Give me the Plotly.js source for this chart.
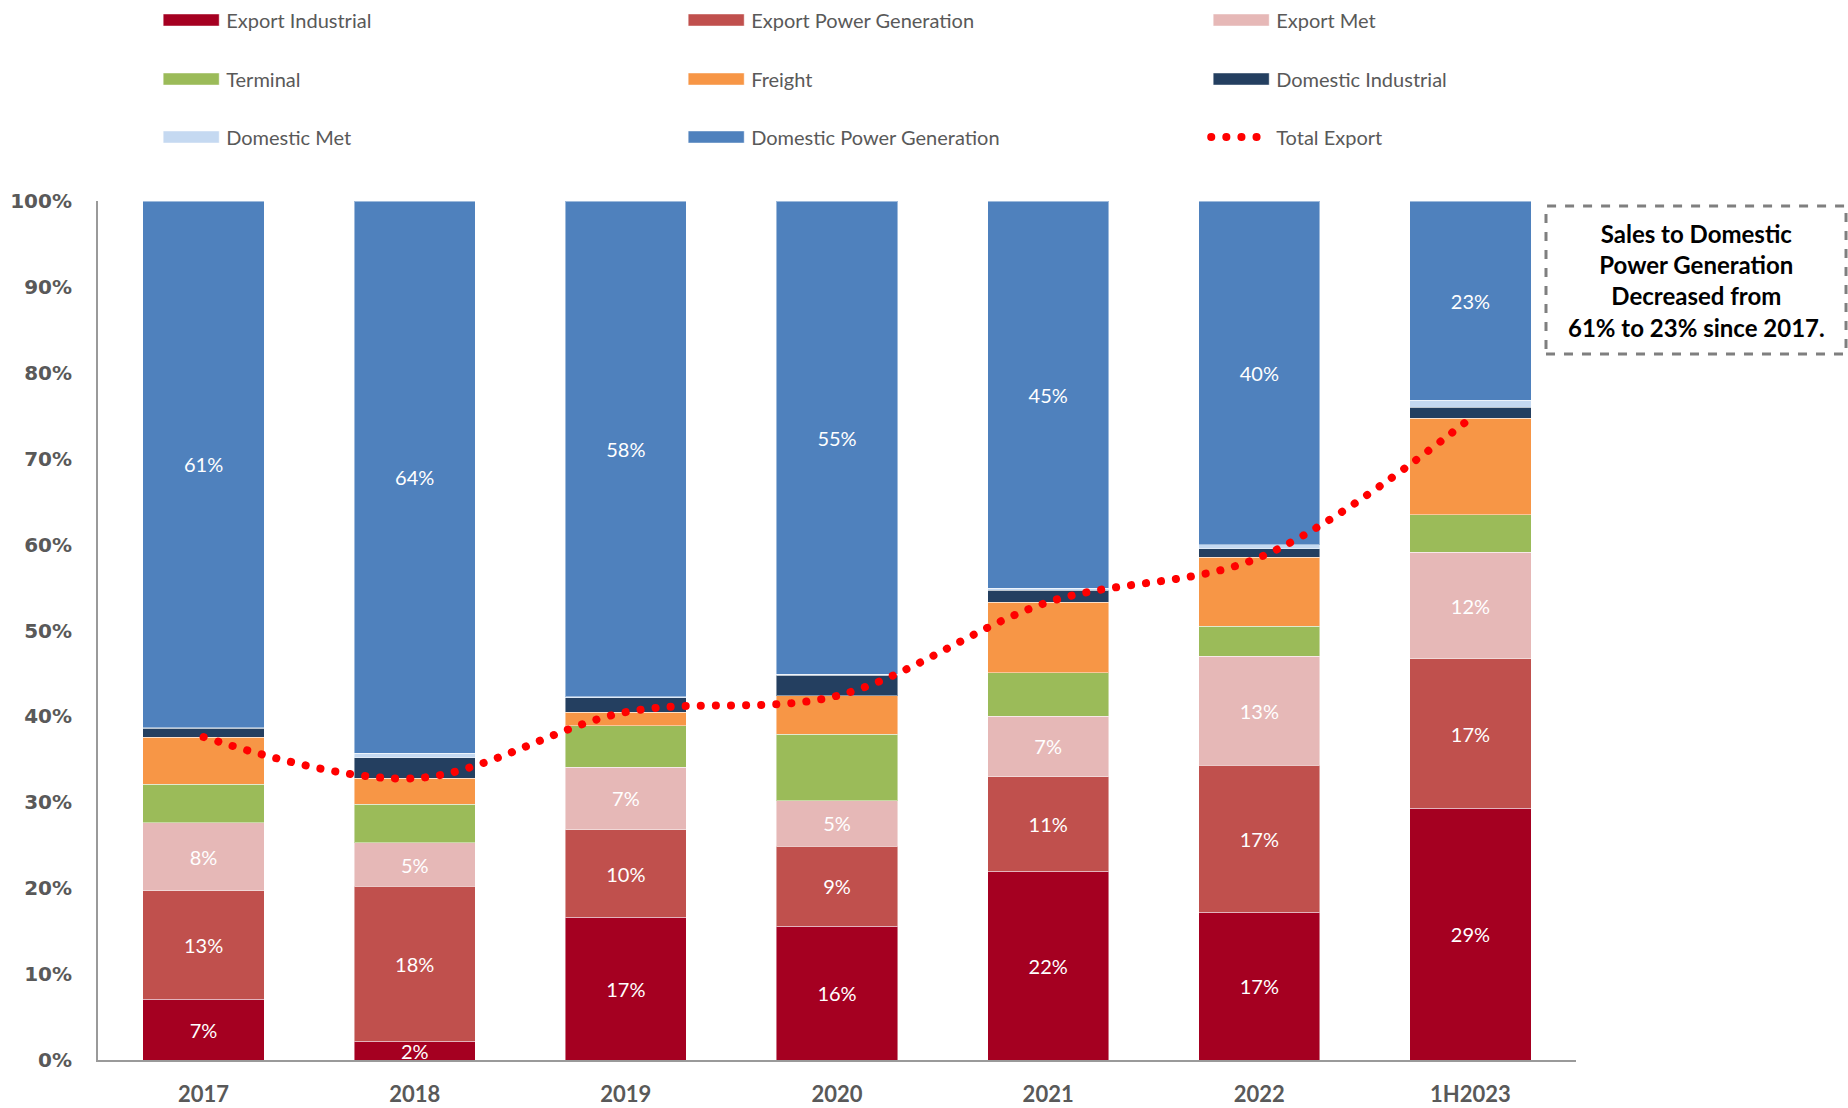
<!DOCTYPE html>
<html>
<head>
<meta charset="utf-8">
<script src="https://cdn.plot.ly/plotly-3.0.1.min.js"></script>
<style>
  body { margin: 0; background: #fff; }
  #plot { width: 1848px; height: 1108px; }
  /* round dots for the Total Export line */
  .scatterlayer .js-line, .legendlines path { stroke-linecap: round; }
</style>
</head>
<body>
<div id="plot"></div>
<script>
var years = ['2017', '2018', '2019', '2020', '2021', '2022', '1H2023'];

// shares of sales, % of total
var exportIndustrial   = [7.1, 2.2, 16.6, 15.6, 22.0, 17.2, 29.3];
var exportPowerGen     = [12.6, 18.0, 10.2, 9.3, 11.0, 17.1, 17.4];
var exportMet          = [7.9, 5.1, 7.3, 5.3, 7.0, 12.7, 12.4];
var terminal           = [4.5, 4.5, 4.8, 7.7, 5.1, 3.5, 4.4];
var freight            = [5.5, 3.0, 1.6, 4.5, 8.2, 8.0, 11.2];
var domesticIndustrial = [1.0, 2.4, 1.7, 2.4, 1.4, 1.0, 1.3];
var domesticMet        = [0.1, 0.5, 0.1, 0.1, 0.2, 0.5, 0.8];
var domesticPowerGen   = [61.3, 64.3, 57.7, 55.1, 45.1, 40.0, 23.2];
var totalExport        = [37.6, 32.8, 40.5, 42.4, 53.3, 58.5, 74.7];

var barFont = {family: 'Lato, sans-serif', size: 20, color: '#ffffff'};

function barTrace(name, values, color, legendId, labelled) {
  var t = {
    type: 'bar',
    name: name,
    x: years,
    y: values,
    legend: legendId,
    marker: {color: color, line: {color: 'rgba(255,255,255,0.45)', width: 1}},
    hoverinfo: 'name+y'
  };
  if (labelled) {
    t.texttemplate = '%{y:.0f}%';
    t.textposition = 'inside';
    t.insidetextanchor = 'middle';
    t.textangle = 0;
    t.constraintext = 'none';
    t.insidetextfont = barFont;
  } else {
    t.textposition = 'none';
  }
  return t;
}

var traces = [
  barTrace('Export Industrial', exportIndustrial, '#A50021', 'legend', true),
  barTrace('Export Power Generation', exportPowerGen, '#C0504D', 'legend', true),
  barTrace('Export Met', exportMet, '#E6B8B7', 'legend', true),
  barTrace('Terminal', terminal, '#9BBB59', 'legend2', false),
  barTrace('Freight', freight, '#F79646', 'legend2', false),
  barTrace('Domestic Industrial', domesticIndustrial, '#243F60', 'legend2', false),
  barTrace('Domestic Met', domesticMet, '#C5D9F1', 'legend3', false),
  barTrace('Domestic Power Generation', domesticPowerGen, '#4F81BD', 'legend3', true),
  {
    type: 'scatter',
    mode: 'lines',
    name: 'Total Export',
    x: years,
    y: totalExport,
    legend: 'legend3',
    line: {color: '#FF0000', width: 8, dash: '0.1px,15px', shape: 'spline', smoothing: 1},
    hoverinfo: 'name+y'
  }
];

// anchored on the right so that plotly lets the three entries share one row
function legendRow(y) {
  return {
    orientation: 'h',
    xref: 'paper',
    x: 1.105,
    xanchor: 'right',
    y: y,
    yanchor: 'middle',
    entrywidth: 450,
    entrywidthmode: 'pixels',
    itemwidth: 60,
    traceorder: 'normal',
    bgcolor: 'rgba(0,0,0,0)',
    font: {family: 'Lato, sans-serif', size: 20, color: '#595959'}
  };
}

var layout = {
  width: 1848,
  height: 1108,
  barmode: 'stack',
  bargap: 0.426,
  showlegend: true,
  paper_bgcolor: '#ffffff',
  plot_bgcolor: '#ffffff',
  margin: {t: 201, l: 98, r: 272, b: 48, autoexpand: false},
  font: {family: 'Lato, sans-serif', color: '#595959'},
  xaxis: {
    type: 'category',
    showline: true,
    linecolor: '#9a9a9a',
    linewidth: 2,
    showgrid: false,
    ticks: '',
    ticklabelstandoff: 14,
    tickfont: {family: 'Lato, sans-serif', size: 22, color: '#595959', weight: 'bold'}
  },
  yaxis: {
    range: [0, 100],
    dtick: 10,
    ticksuffix: '%',
    showline: true,
    linecolor: '#9a9a9a',
    linewidth: 2,
    showgrid: false,
    zeroline: false,
    ticks: '',
    ticklabelstandoff: 20,
    tickfont: {family: 'DejaVu Sans, sans-serif', size: 20, color: '#595959', weight: 'bold'}
  },
  legend: legendRow(1.2107),
  legend2: legendRow(1.142),
  legend3: legendRow(1.0745),
  shapes: [{
    type: 'rect',
    xref: 'paper', yref: 'paper',
    x0: 0.9797, x1: 1.1827, y0: 0.8219, y1: 0.9942,
    line: {color: '#7f7f7f', width: 3, dash: 'dash'},
    fillcolor: 'rgba(0,0,0,0)'
  }],
  annotations: [{
    xref: 'paper', yref: 'paper',
    x: 1.0812, y: 0.908,
    xanchor: 'center', yanchor: 'middle',
    showarrow: false,
    align: 'center',
    text: 'Sales to Domestic<br>Power Generation<br>Decreased from<br>61% to 23% since 2017.',
    font: {family: 'Lato, sans-serif', size: 24, color: '#000000', weight: 'bold'}
  }]
};

Plotly.newPlot('plot', traces, layout, {displayModeBar: false, staticPlot: true}).then(function (gd) {
  // widen the bar legend swatches to Excel-style rectangles
  gd.querySelectorAll('.legendpoints path').forEach(function (p) {
    p.setAttribute('d', 'M28,6H-28V-6H28Z');
  });
});
</script>
</body>
</html>
